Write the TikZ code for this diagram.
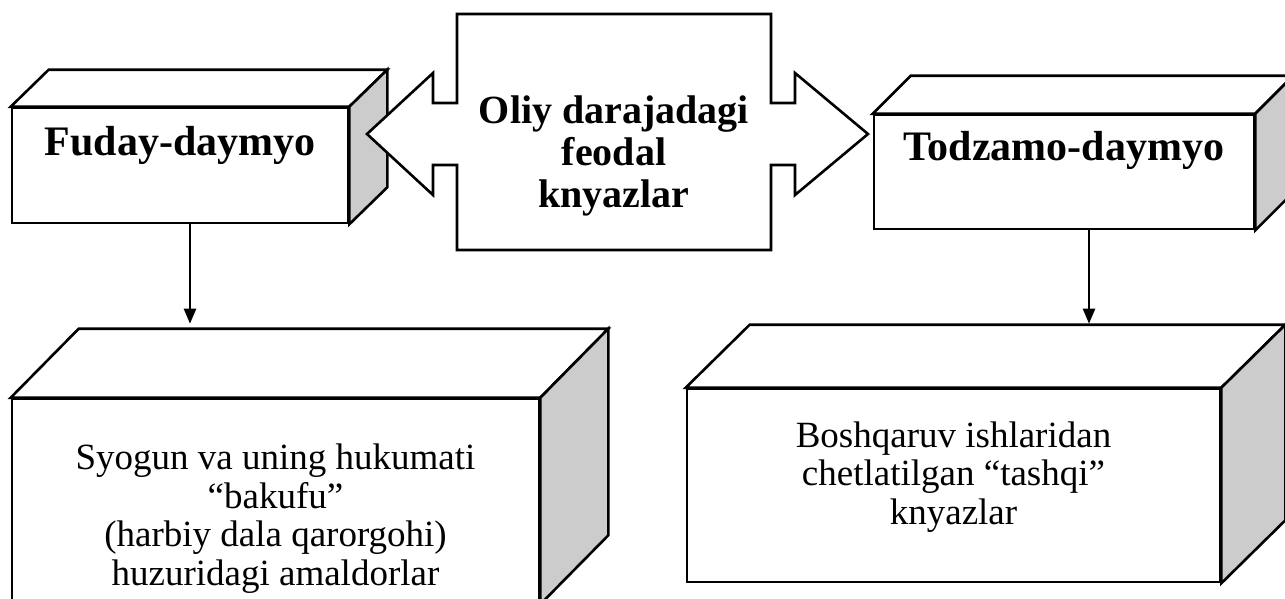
\documentclass[tikz,border=0pt]{standalone}
\usepackage{fontspec}
\setmainfont{Liberation Serif}
\usetikzlibrary{arrows.meta,positioning,calc}
\definecolor{sidegray}{RGB}{204,204,204}

% top and right faces of a box, drawn from its front node
\newcommand{\boxdepth}[3]{%
  \draw[topface] (#1.north west) -- ++(#2,-#3) -- ($(#1.north east)+(#2,-#3)$) -- (#1.north east) -- cycle;
  \draw[sideface] (#1.north east) -- ++(#2,-#3) -- ($(#1.south east)+(#2,-#3)$) -- (#1.south east) -- cycle;
}

\begin{document}
\begin{tikzpicture}[x=1pt,y=-1pt,
    front/.style={rectangle,draw,fill=white,line width=2.6pt,inner sep=0pt},
    topface/.style={draw,fill=white,line width=2.6pt},
    sideface/.style={draw,fill=sidegray,line width=2.6pt},
    callout/.style={draw,fill=white,line width=2.6pt},
    title/.style={font=\fontsize{42}{46}\selectfont\bfseries},
    ctext/.style={font=\fontsize{40}{42}\selectfont\bfseries,align=center},
    btext/.style={font=\fontsize{37}{38.5}\selectfont,align=center},
    arrow/.style={-{Triangle[length=15pt,width=12pt]},line width=2.4pt}
  ]
  \useasboundingbox (0,0) rectangle (1285,598);

  % boxes
  \node[front,minimum width=336,minimum height=115] (fuday) at (180,165.5) {};
  \boxdepth{fuday}{38}{37}
  \node[front,minimum width=380,minimum height=114] (todzamo) at (1064,172) {};
  \boxdepth{todzamo}{38}{38}
  \node[front,minimum width=527,minimum height=204] (syogun) at (275.5,501) {};
  \boxdepth{syogun}{68}{69}
  \node[front,minimum width=533,minimum height=193] (boshqaruv) at (953.5,485.5) {};
  \boxdepth{boshqaruv}{64}{63}

  \node[title] (fudaytxt) at ($(fuday.north)+(0,39)$) {Fuday-daymyo};
  \node[title] (todzamotxt) at ($(todzamo.north)+(0,37)$) {Todzamo-daymyo};
  \node[btext] (syoguntxt) at ($(syogun.north)+(0,121)$)
    {Syogun va uning hukumati\\“bakufu”\\(harbiy dala qarorgohi)\\huzuridagi amaldorlar};
  \node[btext] (boshtxt) at ($(boshqaruv.north)+(0,89)$)
    {Boshqaruv ishlaridan\\chetlatilgan “tashqi”\\knyazlar};

  % double arrow callout in the middle
  \coordinate (oliy) at (614,134);
  \draw[callout,shift={(oliy)}] (-157,-120) -- (157,-120) -- (157,-31) -- (181,-31)
    -- (181,-61) -- (254,0) -- (181,61) -- (181,31) -- (157,31) -- (157,116)
    -- (-157,116) -- (-157,31) -- (-181,31) -- (-181,61) -- (-247,0)
    -- (-181,-61) -- (-181,-31) -- (-157,-31) -- cycle;
  \node[ctext] (oliytxt) at (614,155.5) {Oliy darajadagi\\feodal\\knyazlar};

  % arrows down
  \coordinate (syogunback) at ($(syogun.north)+(0,-74)$);
  \coordinate (boshback) at ($(boshqaruv.north)+(0,-64)$);
  \draw[arrow] ([xshift=10]fuday.south) -- ([xshift=10]fuday.south |- syogunback);
  \draw[arrow] ([xshift=25]todzamo.south) -- ([xshift=25]todzamo.south |- boshback);
\end{tikzpicture}
\end{document}
